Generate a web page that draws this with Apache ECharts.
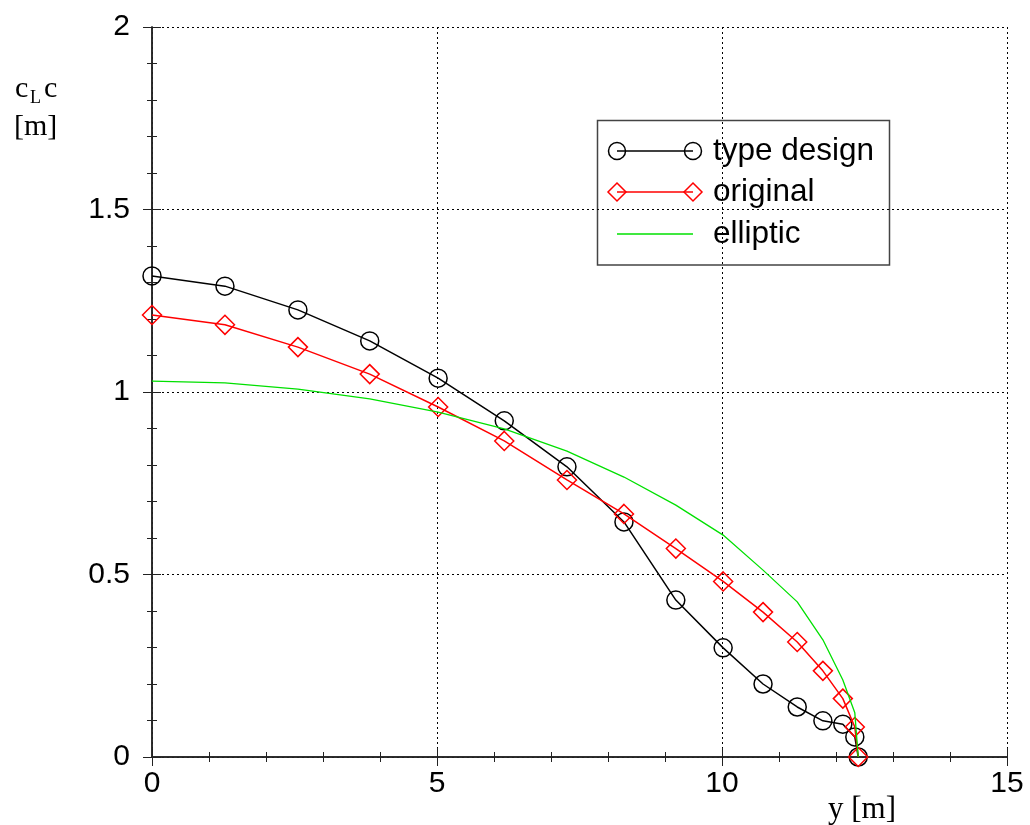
<!DOCTYPE html>
<html>
<head>
<meta charset="utf-8">
<script src="https://cdn.jsdelivr.net/npm/echarts@6/dist/echarts.min.js"></script>
<style>html,body{margin:0;padding:0;background:#fff}#c{width:1030px;height:825px}</style>
</head>
<body>
<div id="c"></div>
<script>
const yPos = [0, 1.28, 2.56, 3.82, 5.02, 6.18, 7.28, 8.28, 9.19, 10.02, 10.72, 11.32, 11.77, 12.12, 12.33, 12.39];
const typeDesign = [1.318, 1.290, 1.225, 1.140, 1.038, 0.921, 0.795, 0.644, 0.430, 0.299, 0.200, 0.137, 0.099, 0.090, 0.055, 0.0];
const original = [1.211, 1.184, 1.123, 1.049, 0.959, 0.866, 0.759, 0.666, 0.571, 0.481, 0.397, 0.315, 0.236, 0.160, 0.082, 0.0];
const elliptic = [1.030, 1.025, 1.008, 0.981, 0.945, 0.899, 0.838, 0.767, 0.690, 0.608, 0.512, 0.425, 0.321, 0.211, 0.121, 0.0];
const xTicks = [0, 5, 10, 15];
const yTicks = [0, 0.5, 1, 1.5, 2];
const seriesNames = ['type design', 'original', 'elliptic'];

const pair = (xs, ys) => xs.map((x, i) => [x, ys[i]]);

const chart = echarts.init(document.getElementById('c'), null, {renderer: 'canvas'});
const axisLine = {show: true, lineStyle: {color: '#222', width: 1.5}};
const split = {show: true, lineStyle: {color: '#000', width: 1, type: [2, 3]}};
const fmtY = v => yTicks.indexOf(v) >= 0 ? String(v) : '';
const fmtX = v => xTicks.indexOf(v) >= 0 ? String(v) : '';
const labelFont = {fontFamily: 'Liberation Sans', fontSize: 30, color: '#000'};

const legendX1 = 617, legendX2 = 693, rows = [151, 192, 234];
const diamond = (cx, cy, r) => ({
  type: 'polygon', shape: {points: [[cx, cy - r], [cx + r, cy], [cx, cy + r], [cx - r, cy]]},
  style: {fill: 'none', stroke: '#ff0000', lineWidth: 1.5}
});

chart.setOption({
  animation: false,
  grid: {left: 152, right: 23, top: 27, bottom: 68},
  xAxis: [
    {type: 'value', min: 0, max: 15, interval: 5, position: 'bottom',
     axisLine: axisLine, axisTick: {inside: true, length: 9, lineStyle: {color: '#222'}},
     minorTick: {show: true, splitNumber: 5, length: 5, lineStyle: {color: '#222'}},
     axisLabel: Object.assign({margin: 12, formatter: fmtX}, labelFont), splitLine: split},
    {type: 'value', min: 0, max: 15, interval: 5, position: 'top',
     axisLine: axisLine, axisTick: {inside: true, length: 9, lineStyle: {color: '#222'}},
     minorTick: {show: true, splitNumber: 5, length: 5, lineStyle: {color: '#222'}},
     axisLabel: {show: false}, splitLine: {show: false}}
  ],
  yAxis: [
    {type: 'value', min: 0, max: 2, interval: 0.5, position: 'left',
     axisLine: axisLine, axisTick: {inside: true, length: 9, lineStyle: {color: '#222'}},
     minorTick: {show: true, splitNumber: 5, length: 5, lineStyle: {color: '#222'}},
     axisLabel: Object.assign({margin: 22, formatter: fmtY}, labelFont), splitLine: split},
    {type: 'value', min: 0, max: 2, interval: 0.5, position: 'right',
     axisLine: axisLine, axisTick: {inside: true, length: 9, lineStyle: {color: '#222'}},
     minorTick: {show: true, splitNumber: 5, length: 5, lineStyle: {color: '#222'}},
     axisLabel: {show: false}, splitLine: {show: false}}
  ],
  series: [
    {name: seriesNames[0], type: 'line', data: pair(yPos, typeDesign), clip: false,
     symbol: 'circle', symbolSize: 18,
     itemStyle: {color: 'rgba(0,0,0,0)', borderColor: '#000', borderWidth: 1.5},
     lineStyle: {color: '#000', width: 1.5}, z: 3},
    {name: seriesNames[1], type: 'line', data: pair(yPos, original), clip: false,
     symbol: 'diamond', symbolSize: [19, 19],
     itemStyle: {color: 'rgba(0,0,0,0)', borderColor: '#ff0000', borderWidth: 1.5},
     lineStyle: {color: '#ff0000', width: 1.5}, z: 4},
    {name: seriesNames[2], type: 'line', data: pair(yPos, elliptic), clip: false,
     symbol: 'none', lineStyle: {color: '#00e000', width: 1.3}, z: 5}
  ],
  graphic: [
    {type: 'text', left: 15, top: 74, style: {text: 'c', font: '30px "Liberation Serif"', fill: '#000'}},
    {type: 'text', left: 30, top: 89, style: {text: 'L', font: '18px "Liberation Serif"', fill: '#000'}},
    {type: 'text', left: 44, top: 74, style: {text: 'c', font: '30px "Liberation Serif"', fill: '#000'}},
    {type: 'text', left: 14, top: 112, style: {text: '[m]', font: '30px "Liberation Serif"', fill: '#000'}},
    {type: 'text', left: 828, top: 794, style: {text: 'y [m]', font: '31px "Liberation Serif"', fill: '#000'}},
    {type: 'group', z: 10, children: [
      {type: 'rect', shape: {x: 597.5, y: 120.5, width: 292, height: 144.5},
       style: {fill: '#fff', stroke: '#444', lineWidth: 1.5}},
      {type: 'line', shape: {x1: legendX1, y1: rows[0], x2: legendX2, y2: rows[0]}, style: {stroke: '#000', lineWidth: 1.5}},
      {type: 'circle', shape: {cx: legendX1, cy: rows[0], r: 8.5}, style: {fill: 'none', stroke: '#000', lineWidth: 1.5}},
      {type: 'circle', shape: {cx: legendX2, cy: rows[0], r: 8.5}, style: {fill: 'none', stroke: '#000', lineWidth: 1.5}},
      {type: 'text', x: 713, y: rows[0], style: {text: seriesNames[0], font: '31.5px "Liberation Sans"', fill: '#000', textVerticalAlign: 'middle'}},
      {type: 'line', shape: {x1: legendX1, y1: rows[1], x2: legendX2, y2: rows[1]}, style: {stroke: '#ff0000', lineWidth: 1.5}},
      diamond(legendX1, rows[1], 9),
      diamond(legendX2, rows[1], 9),
      {type: 'text', x: 713, y: rows[1], style: {text: seriesNames[1], font: '31.5px "Liberation Sans"', fill: '#000', textVerticalAlign: 'middle'}},
      {type: 'line', shape: {x1: legendX1, y1: rows[2], x2: legendX2, y2: rows[2]}, style: {stroke: '#00e000', lineWidth: 1.3}},
      {type: 'text', x: 713, y: rows[2], style: {text: seriesNames[2], font: '31.5px "Liberation Sans"', fill: '#000', textVerticalAlign: 'middle'}}
    ]}
  ]
});
</script>
</body>
</html>
